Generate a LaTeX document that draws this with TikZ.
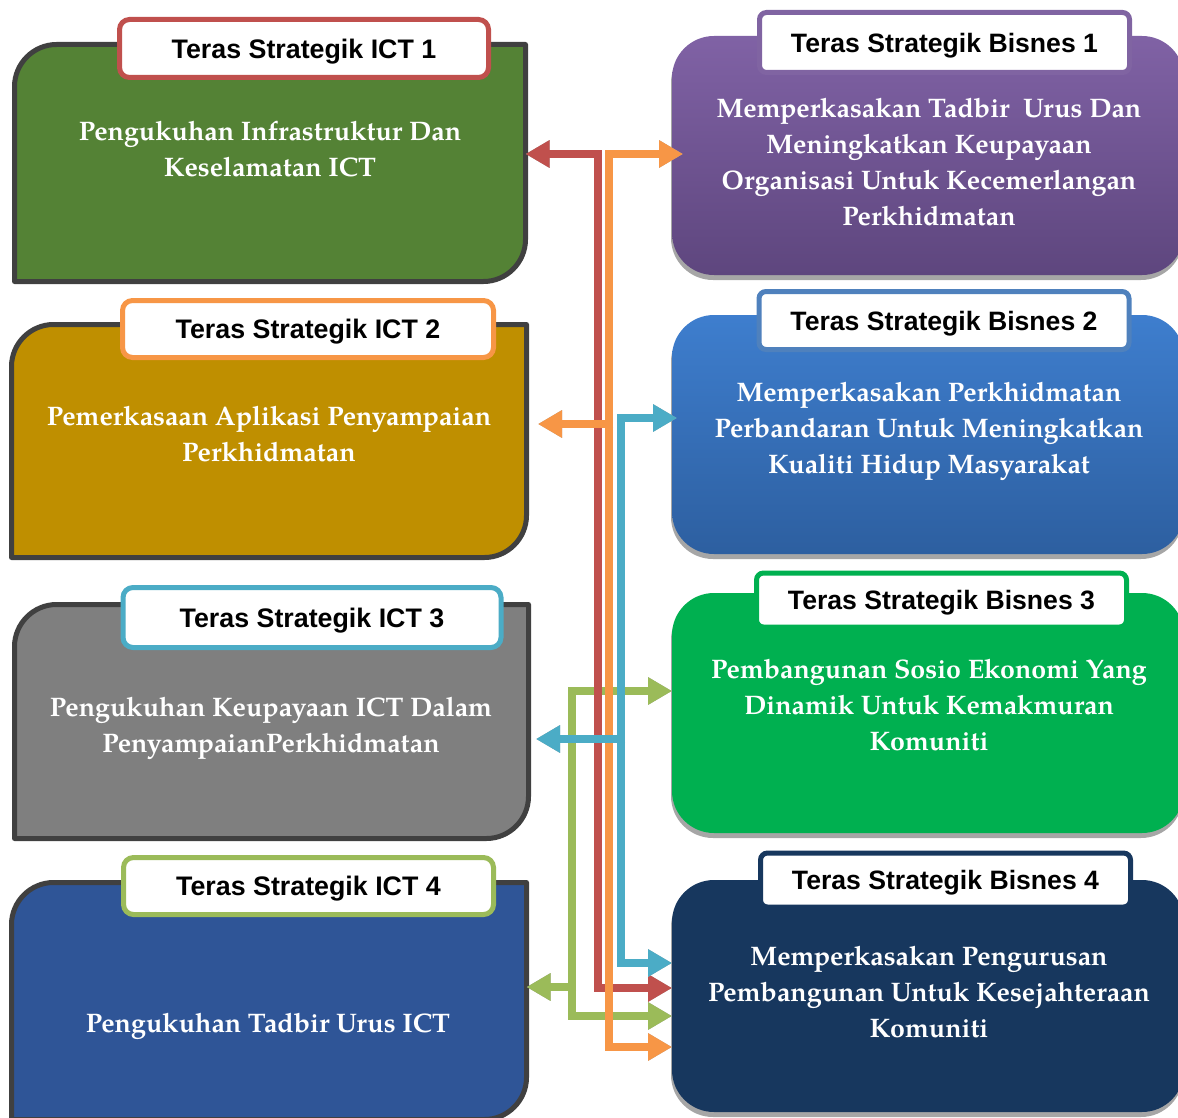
\documentclass[tikz,border=0pt]{standalone}
\usepackage{fontspec}
\newfontfamily\tabfont{Liberation Sans Bold}
\newfontfamily\bodyfont{texgyrepagella-bold.otf}
\usetikzlibrary{arrows.meta,shadows}
\definecolor{ictA}{RGB}{84,130,53}
\definecolor{ictB}{RGB}{191,143,0}
\definecolor{ictC}{RGB}{127,127,127}
\definecolor{ictD}{RGB}{47,85,151}
\definecolor{frameGray}{RGB}{64,64,64}
\definecolor{cRed}{RGB}{192,80,77}
\definecolor{cOrange}{RGB}{247,150,70}
\definecolor{cBlue}{RGB}{75,172,198}
\definecolor{cGreen}{RGB}{155,187,89}
\definecolor{purTop}{RGB}{128,98,165}
\definecolor{purBot}{RGB}{94,70,126}
\definecolor{bluTop}{RGB}{62,126,206}
\definecolor{bluBot}{RGB}{45,95,160}
\definecolor{grnBox}{RGB}{0,176,80}
\definecolor{navBox}{RGB}{23,55,94}
\definecolor{purTab}{RGB}{128,100,162}
\definecolor{bluTab}{RGB}{79,129,189}
\definecolor{navTab}{RGB}{23,55,94}
\definecolor{shadowGray}{RGB}{166,166,166}
\newcommand\ictframe[2]{%
  \draw[ictline, fill=#2] (#1.south west) -- ([yshift=-42pt]#1.north west)
    .. controls ([yshift=-19pt]#1.north west) and ([xshift=19pt]#1.north west) .. ([xshift=42pt]#1.north west)
    -- (#1.north east) -- ([yshift=42pt]#1.south east)
    .. controls ([yshift=19pt]#1.south east) and ([xshift=-19pt]#1.south east) .. ([xshift=-42pt]#1.south east)
    -- cycle;}
\newcommand\sarrow[2]{%
  \draw[#1, draw=shadowGray, shift={(1,5)}] #2;
  \draw[#1] #2;}
\begin{document}
\begin{tikzpicture}[x=1pt,y=-1pt,
  frame/.style={inner sep=0pt, outer sep=0pt, draw=none},
  ictline/.style={draw=frameGray, line width=5pt, line join=round},
  bisbox/.style={inner sep=0pt, outer sep=0pt, rounded corners=42pt,
    minimum width=512pt,
    drop shadow={shadow xshift=-1pt, shadow yshift=-5pt, fill=shadowGray, opacity=1}},
  ictTab/.style={fill=white, line width=5pt, rounded corners=10pt, inner sep=0pt,
    text depth=0pt, font=\tabfont\fontsize{26.8}{30}\selectfont},
  bisTab/.style={fill=white, line width=5pt, rounded corners=7pt, inner sep=0pt,
    text depth=0pt, minimum width=370pt, font=\tabfont\fontsize{26.6}{30}\selectfont},
  bodytxt/.style={text=white, align=center, inner sep=0pt,
    font=\bodyfont\fontsize{26.8}{36}\selectfont},
  conn/.style={line width=8pt, line join=miter, {Triangle[width=26pt,length=24pt]}-{Triangle[width=26pt,length=24pt]}},
  branch/.style={line width=8pt, -{Triangle[width=26pt,length=24pt]}}
]
\useasboundingbox (0,0) rectangle (1178,1118);

% ---------- left (ICT) boxes ----------
\node[frame, minimum width=511pt, minimum height=237pt] (ict1) at (270,163) {};
\node[frame, minimum width=515pt, minimum height=233pt] (ict2) at (269,441) {};
\node[frame, minimum width=514pt, minimum height=234pt] (ict3) at (271.5,721.5) {};
\node[frame, minimum width=515pt, minimum height=237pt] (ict4) at (269,1001) {};
\ictframe{ict1}{ictA}
\ictframe{ict2}{ictB}
\ictframe{ict3}{ictC}
\ictframe{ict4}{ictD}

\node[ictTab, draw=cRed, minimum width=369pt, minimum height=58pt] (t1) at (304,48.5) {Teras Strategik ICT 1};
\node[ictTab, draw=cOrange, minimum width=371pt, minimum height=57pt] (t2) at (308,329) {Teras Strategik ICT 2};
\node[ictTab, draw=cBlue, minimum width=378pt, minimum height=60pt] (t3) at (312,617.5) {Teras Strategik ICT 3};
\node[ictTab, draw=cGreen, minimum width=370pt, minimum height=57pt] (t4) at (308.5,886) {Teras Strategik ICT 4};

\node[bodytxt] (ict1txt) at (270,149) {Pengukuhan Infrastruktur Dan\\Keselamatan ICT};
\node[bodytxt] (ict2txt) at (269,434) {Pemerkasaan Aplikasi Penyampaian\\Perkhidmatan};
\node[bodytxt] (ict3txt) at (271,728) {Pengukuhan Keupayaan ICT Dalam\\PenyampaianPerkhidmatan};
\node[bodytxt] (ict4txt) at (268,1026) {Pengukuhan Tadbir Urus ICT};

% ---------- right (Bisnes) boxes ----------
\node[bisbox, minimum height=239pt, top color=purTop, bottom color=purBot] (b1) at (928,155.5) {};
\node[bisbox, minimum height=239pt, top color=bluTop, bottom color=bluBot] (b2) at (928,434.5) {};
\node[bisbox, minimum height=240pt, fill=grnBox] (b3) at (928,713) {};
\node[bisbox, minimum height=232pt, fill=navBox] (b4) at (928,996) {};

\node[bisTab, draw=purTab, minimum height=60pt] (bt1) at (944.5,42.5) {Teras Strategik Bisnes 1};
\node[bisTab, draw=bluTab, minimum height=58pt] (bt2) at (944,320.5) {Teras Strategik Bisnes 2};
\node[bisTab, draw=grnBox, minimum height=54pt] (bt3) at (941.5,600) {Teras Strategik Bisnes 3};
\node[bisTab, draw=navTab, minimum height=54pt] (bt4) at (945.5,880) {Teras Strategik Bisnes 4};

\node[bodytxt] (b1txt) at (929,162) {Memperkasakan Tadbir\ \ Urus Dan\\Meningkatkan Keupayaan\\Organisasi Untuk Kecemerlangan\\Perkhidmatan};
\node[bodytxt] (b2txt) at (929,431) {Memperkasakan Perkhidmatan\\Perbandaran Untuk Meningkatkan\\Kualiti Hidup Masyarakat};
\node[bodytxt] (b3txt) at (929,705.5) {Pembangunan Sosio Ekonomi Yang\\Dinamik Untuk Kemakmuran\\Komuniti};
\node[bodytxt] (b4txt) at (929,992.5) {Memperkasakan Pengurusan\\Pembangunan Untuk Kesejahteraan\\Komuniti};

% ---------- connectors ----------
\coordinate (gTop) at (572,691);
\coordinate (gBot) at (572,1016);
\coordinate (gMid) at (576,987);
\coordinate (rTop) at (598,154);
\coordinate (rBot) at (598,988);
\coordinate (oTip) at (683,154);
\coordinate (oTop) at (609,154);
\coordinate (oBot) at (609,1047);
\coordinate (oMid) at (613,424);
\coordinate (oLeft) at (538,424);
\coordinate (bTip) at (677,418);
\coordinate (bTop) at (621,418);
\coordinate (bBot) at (621,963);
\coordinate (bMid) at (625,739);
\coordinate (bLeft) at (536,739);

% green: ICT4 <-> Bisnes 3, Bisnes 4
\sarrow{conn, cGreen}{(gTop -| b3.west) -- (gTop) -- (gBot) -- (gBot -| b4.west)}
\sarrow{branch, cGreen}{(gMid) -- (gMid -| ict4.east)}
% red: ICT1 <-> Bisnes 4
\sarrow{conn, cRed}{(rTop -| ict1.east) -- (rTop) -- (rBot) -- (rBot -| b4.west)}
% orange: ICT2 <-> Bisnes 1, Bisnes 4
\sarrow{conn, cOrange}{(oTip) -- (oTop) -- (oBot) -- (oBot -| b4.west)}
\sarrow{branch, cOrange}{(oMid) -- (oLeft)}
% blue: ICT3 <-> Bisnes 2, Bisnes 4
\sarrow{conn, cBlue}{(bTip) -- (bTop) -- (bBot) -- (bBot -| b4.west)}
\sarrow{branch, cBlue}{(bMid) -- (bLeft)}
\end{tikzpicture}
\end{document}
